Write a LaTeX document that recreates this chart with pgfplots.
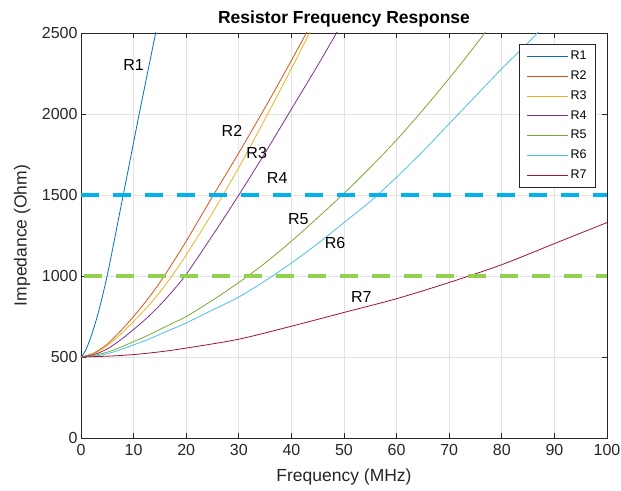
\documentclass[border=0pt]{standalone}
\usepackage{pgfplots}
\pgfplotsset{compat=1.18}
\usepackage{fontspec}
\setmainfont{Liberation Sans}
\definecolor{axgray}{HTML}{262626}
\definecolor{gridc}{HTML}{E3E3E3}
\definecolor{c1}{HTML}{0072BD}
\definecolor{c2}{HTML}{D95319}
\definecolor{c3}{HTML}{EDB120}
\definecolor{c4}{HTML}{7E2F8E}
\definecolor{c5}{HTML}{77AC30}
\definecolor{c6}{HTML}{4DBEEE}
\definecolor{c7}{HTML}{A2142F}
\definecolor{dblue}{HTML}{00B0F0}
\definecolor{dgreen}{HTML}{92D050}
\begin{document}
\begin{tikzpicture}
\path[use as bounding box] (-81pt,-52pt) rectangle (540pt,438pt);
\begin{axis}[
  at={(0,0)}, anchor=south west,
  scale only axis, width=526pt, height=405pt,
  xmin=0, xmax=100, ymin=0, ymax=2500,
  xtick={0,10,...,100}, ytick={0,500,...,2500},
  grid=major, major grid style={color=gridc, line width=0.8pt},
  tick align=inside, xtick pos=both, ytick pos=both,
  major tick length=5pt,
  axis line style={color=axgray, line width=0.9pt},
  tick style={color=axgray, line width=0.9pt},
  ticklabel style={font=\fontsize{16}{18}\selectfont, text=axgray},
  xticklabel style={yshift=-3pt},
  /pgf/number format/assume math mode=true,
  /pgf/number format/1000 sep={},
  xlabel={Frequency (MHz)}, ylabel={Impedance (Ohm)},
  xlabel style={at={(axis description cs:0.5,-0.097)}, anchor=center, font=\fontsize{17.5}{20}\selectfont, text=axgray},
  ylabel style={at={(axis description cs:-0.112,0.5)}, anchor=center, font=\fontsize{17.5}{20}\selectfont, text=axgray},
  every axis title shift=0pt,
  title={Resistor Frequency Response},
  title style={at={(axis description cs:0.5,1.035)}, anchor=center, font=\bfseries\fontsize{17.5}{20}\selectfont, text=black},
  legend style={at={(axis description cs:0.979,0.973)}, anchor=north east,
    font=\fontsize{12.5}{14}\selectfont, draw=axgray, line width=0.8pt, fill=white,
    row sep=5.6pt, inner xsep=7pt, inner ysep=5pt},
  legend cell align=left,
  legend image code/.code={\draw[#1, line width=0.9pt] (0pt,0pt) -- (41pt,0pt);},
  every axis plot/.append style={line width=0.8pt},
]
\addplot[c1, smooth] coordinates {(0,500)(0.5,520)(1,550)(1.5,590)(2,635)(3,740)(4,865)(5,1005)(6,1165)(7,1330)(8,1495)(9,1660)(10,1825)(11,1990)(12,2150)(13,2310)(14,2470)(15,2630)};
\addlegendentry{R1}
\addplot[c2, smooth] coordinates {(0,500)(2.5,525)(5,580)(7.5,660)(10,750)(12.5,850)(15,960)(17.5,1085)(20,1215)(25,1490)(30,1760)(35,2040)(40,2330)(45,2630)};
\addlegendentry{R2}
\addplot[c3, smooth] coordinates {(0,500)(2.5,520)(5,570)(7.5,640)(10,720)(12.5,805)(15,900)(17.5,1010)(20,1130)(25,1390)(30,1670)(35,1970)(40,2280)(45,2600)};
\addlegendentry{R3}
\addplot[c4, smooth] coordinates {(0,500)(2.5,515)(5,550)(7.5,605)(10,670)(12.5,740)(15,820)(17.5,910)(20,1010)(25,1250)(30,1500)(35,1760)(40,2030)(45,2300)(50,2580)};
\addlegendentry{R4}
\addplot[c5, smooth] coordinates {(0,500)(2.5,510)(5,530)(7.5,560)(10,595)(12.5,630)(15,670)(17.5,710)(20,750)(25,850)(30,960)(35,1080)(40,1215)(45,1360)(50,1510)(55,1670)(60,1840)(65,2025)(70,2220)(75,2425)(80,2640)};
\addlegendentry{R5}
\addplot[c6, smooth] coordinates {(0,500)(2.5,505)(5,520)(7.5,545)(10,575)(12.5,605)(15,640)(17.5,675)(20,710)(25,790)(30,870)(35,970)(40,1080)(45,1200)(50,1330)(55,1460)(60,1610)(65,1770)(70,1940)(75,2110)(80,2280)(85,2440)(90,2610)};
\addlegendentry{R6}
\addplot[c7, smooth] coordinates {(0,500)(5,505)(10,515)(15,532)(20,555)(30,610)(40,690)(50,775)(60,860)(70,960)(80,1070)(90,1200)(100,1330)};
\addlegendentry{R7}
\addplot[dblue, line width=4.7pt, dash pattern=on 18pt off 14pt, forget plot] coordinates {(0,1500)(100,1500)};
\addplot[dgreen, line width=4.7pt, dash pattern=on 18pt off 14pt, dash phase=-3pt, forget plot] coordinates {(0,1000)(100,1000)};
\node[font=\fontsize{16}{18}\selectfont, text=black] at (axis cs:10.0,2305) {R1};
\node[font=\fontsize{16}{18}\selectfont, text=black] at (axis cs:28.7,1895) {R2};
\node[font=\fontsize{16}{18}\selectfont, text=black] at (axis cs:33.4,1762) {R3};
\node[font=\fontsize{16}{18}\selectfont, text=black] at (axis cs:37.3,1605) {R4};
\node[font=\fontsize{16}{18}\selectfont, text=black] at (axis cs:41.3,1349) {R5};
\node[font=\fontsize{16}{18}\selectfont, text=black] at (axis cs:48.3,1206) {R6};
\node[font=\fontsize{16}{18}\selectfont, text=black] at (axis cs:53.3,868) {R7};
\end{axis}
\end{tikzpicture}
\end{document}
